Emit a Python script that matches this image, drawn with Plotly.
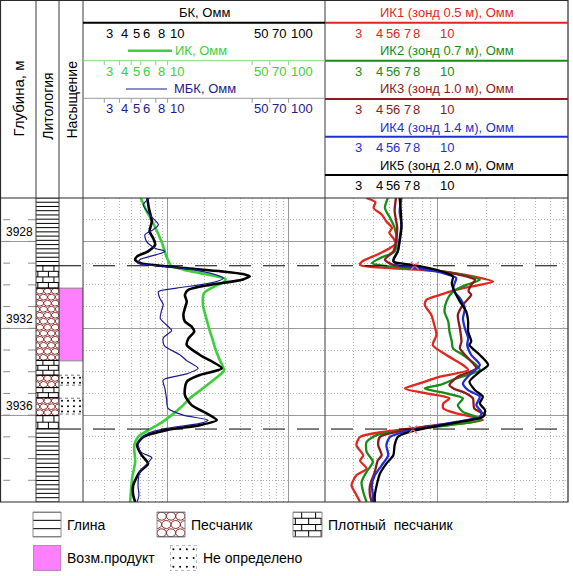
import math
import plotly.graph_objects as go

W, H = 573, 576
FONT = "Liberation Sans, Arial, sans-serif"


def px(x):
    return x / W


def py(y):
    return 1 - y / H


# ---------------- data ----------------
depth_range = [3940, 3926]
depth_major = [3928, 3932, 3936]
depth_minor = [3927, 3929, 3930, 3931, 3933, 3934, 3935, 3937, 3938, 3939]
depth_ticks = list(range(3927, 3940))

litho_top = [3926.0, 3929.12, 3930.15, 3933.48, 3934.16, 3934.73, 3935.2, 3936.02, 3936.63]
litho_bottom = litho_top[1:] + [3940.0]
litho_kind = ["clay", "dense", "sand", "dense", "sand", "dense", "sand", "dense", "clay"]

sat_top = [3930.15, 3934.16, 3935.22]
sat_bottom = [3933.5, 3934.62, 3935.95]
sat_kind = ["product", "undef", "undef"]

boundary_depth = [3929.12, 3936.64]
cross_depth = [3929.12, 3936.66]
cross_value = [7.2, 7.0]

left_range = [2, 200]
right_range = [2, 64]
left_grid_major = [10, 100]
left_grid_minor = [2, 3, 4, 5, 6, 7, 8, 9, 20, 30, 40, 50, 60, 70, 80, 90]
right_grid_major = [10]
right_grid_minor = [2, 3, 4, 5, 6, 7, 8, 9, 20, 30, 40, 50, 60]
left_tick_labels = [3, 4, 5, 6, 8, 10, 50, 70, 100]
right_tick_labels = [3, 4, 5, 6, 7, 8, 10]
right_label_anchor = ["left", "left", "center", "right", "right", "right", "left"]

# left track: (depth, ohmm)
bk = [(3926.0, 6.8), (3926.46, 7.0), (3927.08, 7.4), (3927.54, 7.1), (3927.85, 7.6),
      (3928.15, 7.9), (3928.46, 6.9), (3928.69, 5.6), (3928.85, 5.4), (3929.0, 6.0),
      (3929.12, 8.7), (3929.23, 14.0), (3929.38, 28.0), (3929.5, 42.0), (3929.61, 47.8),
      (3929.75, 42.0), (3929.84, 34.7), (3930.0, 22.4), (3930.23, 14.8), (3930.46, 13.9),
      (3930.77, 14.4), (3931.08, 13.9), (3931.38, 13.5), (3931.69, 13.9), (3931.92, 15.8),
      (3932.15, 16.6), (3932.46, 14.9), (3932.77, 14.4), (3933.23, 18.5), (3933.84, 28.0),
      (3934.15, 18.5), (3934.46, 14.4), (3935.07, 13.9), (3935.54, 15.8), (3935.92, 21.0),
      (3936.23, 25.5), (3936.46, 18.5), (3936.69, 9.8), (3937.0, 6.3), (3937.38, 5.6),
      (3937.84, 6.1), (3938.23, 6.9), (3938.61, 5.9), (3939.23, 5.2), (3939.69, 5.2),
      (3940.0, 5.4)]
ik = [(3926.0, 6.0), (3926.6, 6.7), (3927.15, 7.6), (3928.07, 9.0), (3928.7, 9.8),
      (3929.12, 10.7), (3929.3, 13.5), (3929.46, 18.5), (3929.6, 25.0), (3929.72, 30.0),
      (3929.85, 29.5), (3930.07, 24.5), (3930.38, 20.0), (3930.92, 19.6), (3931.5, 20.8),
      (3932.0, 22.0), (3932.5, 23.5), (3932.92, 24.7), (3933.38, 26.6), (3933.95, 29.2),
      (3934.3, 25.0), (3934.84, 18.8), (3935.22, 15.3), (3935.6, 13.1), (3936.0, 10.8),
      (3936.38, 8.7), (3936.68, 7.0), (3937.0, 5.7), (3937.4, 5.3), (3938.14, 5.4),
      (3938.9, 5.1), (3940.0, 4.9)]
mbk = [(3926.0, 7.1), (3926.31, 6.3), (3926.77, 7.1), (3927.23, 8.4), (3927.46, 7.6),
       (3927.69, 6.5), (3928.0, 6.7), (3928.3, 7.8), (3928.46, 9.5), (3928.61, 8.1),
       (3928.84, 5.9), (3929.0, 5.7), (3929.12, 8.1), (3929.26, 14.4), (3929.46, 22.4),
       (3929.69, 28.9), (3929.92, 22.4), (3930.15, 11.9), (3930.31, 8.4), (3930.6, 8.6),
       (3930.9, 9.2), (3931.2, 8.9), (3931.54, 8.7), (3931.85, 9.8), (3932.1, 10.8),
       (3932.45, 9.2), (3932.8, 9.4), (3933.23, 12.7), (3933.5, 14.5), (3933.84, 17.9),
       (3934.1, 14.4), (3934.38, 9.2), (3934.77, 9.5), (3935.23, 9.8), (3935.69, 10.1),
       (3936.0, 13.5), (3936.23, 21.6), (3936.38, 18.5), (3936.61, 9.8), (3936.84, 6.9),
       (3937.23, 5.7), (3937.69, 6.0), (3937.95, 7.4), (3938.15, 7.0), (3938.61, 5.9),
       (3939.23, 5.7), (3939.69, 5.8), (3940.0, 5.6)]

# right track: induction probes
ik1 = [(3926.0, 3.6), (3926.2, 4.1), (3926.46, 4.0), (3926.77, 4.5), (3927.08, 4.8),
       (3927.38, 5.2), (3927.6, 5.0), (3927.85, 5.3), (3928.1, 5.5), (3928.3, 5.06),
       (3928.61, 4.2), (3928.92, 3.4), (3929.08, 3.3), (3929.23, 5.06), (3929.38, 10.3),
       (3929.61, 16.5), (3929.85, 22.0), (3930.0, 18.2), (3930.23, 13.0), (3930.46, 10.3),
       (3930.69, 8.5), (3930.92, 8.3), (3931.38, 9.1), (3931.84, 9.5), (3932.31, 9.8),
       (3932.77, 9.3), (3933.23, 11.3), (3933.69, 14.3), (3933.92, 15.4), (3934.23, 10.3),
       (3934.54, 7.7), (3934.77, 6.25), (3935.0, 8.5), (3935.23, 11.8), (3935.46, 10.8),
       (3935.69, 10.8), (3935.92, 13.0), (3936.08, 16.5), (3936.23, 19.0), (3936.46, 11.3),
       (3936.61, 7.0), (3936.77, 4.6), (3937.0, 3.3), (3937.38, 3.13), (3937.85, 3.45),
       (3938.1, 3.3), (3938.46, 3.62), (3938.77, 3.13), (3939.23, 2.92), (3939.62, 3.1),
       (3940.0, 3.3)]
ik2 = [(3926.0, 4.9), (3926.46, 4.7), (3926.92, 5.06), (3927.38, 5.4), (3928.0, 5.56),
       (3928.46, 5.4), (3928.77, 4.38), (3929.0, 3.9), (3929.15, 5.06), (3929.31, 9.3),
       (3929.54, 14.3), (3929.77, 18.2), (3930.0, 15.0), (3930.31, 12.4), (3930.77, 11.3),
       (3931.23, 11.0), (3931.69, 11.6), (3932.15, 11.8), (3932.61, 12.2), (3932.92, 12.4),
       (3933.23, 14.3), (3933.69, 17.3), (3933.92, 18.2), (3934.31, 13.0), (3934.61, 10.3),
       (3934.77, 8.3), (3935.0, 11.3), (3935.23, 14.3), (3935.54, 13.3), (3935.85, 14.3),
       (3936.08, 17.3), (3936.23, 18.2), (3936.46, 11.8), (3936.69, 6.4), (3936.92, 4.18),
       (3937.23, 3.62), (3937.69, 3.62), (3938.15, 3.96), (3938.61, 3.62), (3939.08, 3.37),
       (3939.54, 3.45), (3940.0, 3.62)]
ik3 = [(3926.0, 5.5), (3926.6, 5.4), (3927.38, 5.6), (3928.0, 5.5), (3928.46, 5.3),
       (3928.84, 4.7), (3929.08, 5.3), (3929.26, 8.5), (3929.54, 13.7), (3929.77, 17.0),
       (3930.0, 16.1), (3930.3, 15.5), (3930.46, 16.1), (3930.92, 14.3), (3931.38, 13.3),
       (3932.0, 13.7), (3932.61, 14.0), (3932.92, 13.7), (3933.38, 15.4), (3933.84, 17.3),
       (3934.23, 13.3), (3934.61, 11.8), (3934.77, 12.5), (3935.0, 15.0), (3935.23, 16.5),
       (3935.69, 16.8), (3936.0, 19.6), (3936.31, 13.7), (3936.54, 8.1), (3936.74, 5.8),
       (3937.0, 4.38), (3937.38, 4.27), (3937.85, 4.49), (3938.08, 4.25), (3938.61, 4.07),
       (3939.23, 3.8), (3939.69, 3.8), (3940.0, 3.9)]
ik4 = [(3926.0, 5.95), (3926.62, 5.8), (3927.23, 5.95), (3927.85, 5.8), (3928.46, 5.65),
       (3928.84, 5.3), (3929.08, 5.6), (3929.23, 7.4), (3929.46, 10.8), (3929.69, 13.0),
       (3929.92, 12.7), (3930.23, 12.4), (3930.61, 13.7), (3931.08, 14.7), (3931.54, 14.3),
       (3932.0, 14.7), (3932.46, 15.4), (3932.77, 15.2), (3933.23, 16.1), (3933.69, 18.2),
       (3934.15, 15.7), (3934.54, 14.3), (3934.85, 15.4), (3935.15, 18.2), (3935.54, 17.3),
       (3935.85, 18.6), (3936.08, 18.2), (3936.31, 13.0), (3936.54, 8.9), (3936.74, 6.4),
       (3937.0, 5.06), (3937.38, 4.8), (3937.85, 4.93), (3938.31, 4.49), (3938.77, 4.07),
       (3939.23, 3.9), (3939.69, 3.96), (3940.0, 3.96)]
ik5 = [(3926.0, 5.8), (3926.62, 5.9), (3927.38, 5.95), (3928.0, 5.8), (3928.46, 5.65),
       (3928.92, 5.3), (3929.08, 7.0), (3929.31, 9.8), (3929.61, 12.4), (3929.92, 12.2),
       (3930.31, 12.7), (3930.77, 13.7), (3931.23, 15.0), (3931.69, 15.4), (3932.15, 15.4),
       (3932.61, 16.1), (3932.77, 15.7), (3933.23, 18.2), (3933.69, 20.5), (3934.0, 18.2),
       (3934.46, 15.7), (3934.85, 17.0), (3935.15, 19.0), (3935.46, 18.2), (3935.77, 19.6),
       (3936.08, 19.0), (3936.31, 13.7), (3936.54, 9.3), (3936.74, 6.9), (3937.0, 5.65),
       (3937.38, 5.4), (3937.85, 5.3), (3938.23, 4.8), (3938.69, 4.38), (3939.23, 4.18),
       (3939.69, 4.07), (3940.0, 4.07)]

left_titles = ["БК, Омм", "ИК, Омм", "МБК, Омм"]
right_titles = ["ИК1 (зонд 0.5 м), Омм", "ИК2 (зонд 0.7 м), Омм", "ИК3 (зонд 1.0 м), Омм",
                "ИК4 (зонд 1.4 м), Омм", "ИК5 (зонд 2.0 м), Омм"]
legend_kinds = ["clay", "sand", "dense", "product", "undef"]
legend_texts = ["Глина", "Песчаник", "Плотный\u00a0\u00a0песчаник", "Возм.продукт", "Не определено"]

# ---------------- styles ----------------
C_GREEN_L = "#3ccf3c"
C_NAVY = "#1c1c8f"
C_RED = "#e2261e"
C_GREEN_R = "#178c17"
C_MAROON = "#8e1b1b"
C_BLUE = "#1f2fd4"
C_SAND = "#8b2a2a"
C_PINK = "#ff80ff"
C_GRID = "#9a9a9a"
C_DOT = "#b4b4b4"

fig = go.Figure()


def curve(pairs, xa, ya, color, width):
    return go.Scatter(x=[p[1] for p in pairs], y=[p[0] for p in pairs], xaxis=xa, yaxis=ya,
                      mode="lines", line=dict(color=color, width=width, shape="spline", smoothing=0.7),
                      hoverinfo="skip", showlegend=False)


def seg_trace(xs, ys, xa, ya, color, width=1, dash="solid"):
    return go.Scatter(x=xs, y=ys, xaxis=xa, yaxis=ya, mode="lines",
                      line=dict(color=color, width=width, dash=dash),
                      hoverinfo="skip", showlegend=False)


def pattern(kind, top, bottom, xa, ya, row_h):
    n = max(1, round(abs(bottom - top) / row_h))
    h = (bottom - top) / n
    xs, ys = [], []
    out = []
    if kind in ("clay", "dense"):
        for i in range(n + 1):
            y = top + i * h
            xs += [0, 1, None]
            ys += [y, y, None]
        if kind == "dense":
            for i in range(n):
                for xj in ([0.3, 0.78] if i % 2 == 0 else [0.08, 0.54, 0.97]):
                    xs += [xj, xj, None]
                    ys += [top + i * h, top + (i + 1) * h, None]
        out.append(seg_trace(xs, ys, xa, ya, "black", 1))
    elif kind == "sand":
        ncol = 3
        for i in range(n):
            cy = top + (i + 0.5) * h
            shift = 0.5 if i % 2 == 0 else 0.0
            for k in range(ncol + 1):
                cx = (k + shift) / ncol
                for j in range(25):
                    t = 2 * math.pi * j / 24
                    xs.append(cx + 0.5 / ncol * math.cos(t))
                    ys.append(cy + 0.48 * h * math.sin(t))
                xs.append(None)
                ys.append(None)
        out.append(seg_trace(xs, ys, xa, ya, C_SAND, 1))
        out.append(seg_trace([0, 1, None, 0, 1], [top, top, None, bottom, bottom], xa, ya, "black", 1))
    elif kind == "product":
        out.append(go.Scatter(x=[0, 1, 1, 0, 0], y=[top, top, bottom, bottom, top], xaxis=xa, yaxis=ya,
                              mode="lines", fill="toself", fillcolor=C_PINK,
                              line=dict(color="#888888", width=1), hoverinfo="skip", showlegend=False))
    elif kind == "undef":
        cols = 4
        for i in range(n):
            y = top + (i + 0.5) * h
            for k in range(cols):
                xs.append((k + 0.5) / cols)
                ys.append(y)
        out.append(seg_trace([0, 1, 1, 0, 0], [top, top, bottom, bottom, top], xa, ya, "#777777", 1, "dot"))
        out.append(go.Scatter(x=xs, y=ys, xaxis=xa, yaxis=ya, mode="markers",
                              marker=dict(size=2, color="black"), hoverinfo="skip", showlegend=False))
    return out


# depth column ticks
xs, ys = [], []
for d in depth_ticks:
    xs += [0.09, 0.28, None, 0.78, 1.0, None]
    ys += [d, d, None, d, d, None]
fig.add_trace(seg_trace(xs, ys, "x", "y", "#8a8a8a", 1))

# lithology column
row_height = {"clay": 0.2, "dense": 0.27, "sand": 0.27}
for t, b, k in zip(litho_top, litho_bottom, litho_kind):
    for tr in pattern(k, t, b, "x2", "y2", row_height[k]):
        fig.add_trace(tr)

# saturation column
for t, b, k in zip(sat_top, sat_bottom, sat_kind):
    for tr in pattern(k, t, b, "x3", "y3", 0.24):
        fig.add_trace(tr)

# curves
fig.add_trace(curve(ik, "x4", "y4", C_GREEN_L, 2.6))
fig.add_trace(curve(bk, "x4", "y4", "black", 2.6))
fig.add_trace(curve(mbk, "x4", "y4", C_NAVY, 1.2))
for pairs, col in [(ik1, C_RED), (ik2, C_GREEN_R), (ik3, C_MAROON), (ik4, C_BLUE), (ik5, "black")]:
    fig.add_trace(curve(pairs, "x5", "y5", col, 2.3))
fig.add_trace(go.Scatter(x=cross_value, y=cross_depth, xaxis="x5", yaxis="y5", mode="markers",
                         marker=dict(symbol="x-thin-open", size=8, line=dict(color="black", width=1.2)),
                         hoverinfo="skip", showlegend=False))

# legend swatches
legend_box = [(33, 61, 512, 537), (157, 185, 512, 537), (293, 322, 512, 537),
              (33, 61, 545, 571), (170, 197, 545, 571)]
legend_rows = {"clay": 0.34, "sand": 0.34, "dense": 0.25, "product": 1, "undef": 0.34}
for i, k in enumerate(legend_kinds):
    n = 6 + i
    for tr in pattern(k, 0, 1, f"x{n}", f"y{n}", legend_rows[k]):
        fig.add_trace(tr)

# ---------------- axes ----------------
track_px = [(0, 36), (36, 59), (59, 83), (83, 325), (325, 568)]
ydom = [py(502), py(198)]
layout_axes = {}
hidden = dict(showgrid=False, zeroline=False, showticklabels=False, ticks="", showline=False, fixedrange=True)
for i, (a, b) in enumerate(track_px, 1):
    s = "" if i == 1 else str(i)
    layout_axes["xaxis" + s] = dict(domain=[px(a), px(b)], anchor="y" + s, range=[0, 1], **hidden)
    layout_axes["yaxis" + s] = dict(domain=ydom, anchor="x" + s, range=depth_range, **hidden)

layout_axes["yaxis"].update(tickvals=depth_major, showgrid=True, gridcolor=C_GRID, gridwidth=1)
for s, rng, gmaj, gmin in [("4", left_range, left_grid_major, left_grid_minor),
                           ("5", right_range, right_grid_major, right_grid_minor)]:
    layout_axes["xaxis" + s].update(
        type="log", range=[math.log10(rng[0]), math.log10(rng[1])], tickvals=gmaj,
        showgrid=True, gridcolor=C_GRID, gridwidth=1,
        minor=dict(tickvals=gmin, showgrid=True, gridcolor=C_DOT, griddash="1px,2px", gridwidth=1, ticks=""))
    layout_axes["yaxis" + s].update(
        tickvals=depth_major, showgrid=True, gridcolor=C_GRID, gridwidth=1,
        minor=dict(tickvals=depth_minor, showgrid=True, gridcolor=C_DOT, griddash="1px,2px", gridwidth=1, ticks=""))

for i, (x0, x1, y0, y1) in enumerate(legend_box):
    n = str(6 + i)
    layout_axes["xaxis" + n] = dict(domain=[px(x0), px(x1)], anchor="y" + n, range=[0, 1], **hidden)
    layout_axes["yaxis" + n] = dict(domain=[py(y1), py(y0)], anchor="x" + n, range=[1, 0], **hidden)

# ---------------- shapes ----------------
shapes = []


def hline(y, x0, x1, color, width=1, dash="solid", yref="paper", xref="paper"):
    shapes.append(dict(type="line", xref=xref, yref=yref, x0=x0, x1=x1, y0=y, y1=y,
                       line=dict(color=color, width=width, dash=dash)))


for x in [36, 59, 83, 325]:
    shapes.append(dict(type="line", xref="paper", yref="paper", x0=px(x), x1=px(x), y0=py(0), y1=py(502),
                       line=dict(color="#3a3a3a", width=1)))
shapes.append(dict(type="rect", xref="paper", yref="paper", x0=px(0.5), x1=px(568), y0=py(0.5), y1=py(502),
                   line=dict(color="#2a2a2a", width=1.2)))
hline(py(198), px(0), px(568), "#2a2a2a", 1.2)

# header separator lines
left_rows = [(22.7, "black", 2), (60.7, "#84d884", 1), (98.3, "#9a9a9a", 1)]
right_rows = [(22.7, C_RED, 2), (60.7, C_GREEN_R, 2), (99, C_MAROON, 2), (136.7, C_BLUE, 2), (175, "black", 2)]
for y, c, w in left_rows:
    hline(py(y), px(83), px(325), c, w)
for y, c, w in right_rows:
    hline(py(y), px(325), px(568), c, w)
for y, c, w in left_rows[1:]:
    for v in left_tick_labels:
        shapes.append(dict(type="line", xref="x4", yref="paper", x0=v, x1=v, y0=py(y), y1=py(y + 4.5),
                           line=dict(color=c, width=1)))
# header legend samples
hline(py(50.7), px(128), px(172), C_GREEN_L, 2.6)
hline(py(89), px(126), px(167), C_NAVY, 1.2)

# reservoir boundaries
for d in boundary_depth:
    hline(d, px(59), px(568), "black", 1, "22px,12px", yref="y4")

# legend swatch frames
for (x0, x1, y0, y1), k in zip(legend_box, legend_kinds):
    if k in ("undef", "product"):
        continue
    shapes.append(dict(type="rect", xref="paper", yref="paper", x0=px(x0), x1=px(x1), y0=py(y1), y1=py(y0),
                       line=dict(color="#8a8a8a", width=1)))

# ---------------- annotations ----------------
ann = []


def text(x, y, s, color="black", size=13, xanchor="center", xref="paper", yref="paper", yanchor="middle", angle=0):
    ann.append(dict(x=x, y=y, xref=xref, yref=yref, text=s, showarrow=False, xanchor=xanchor,
                    yanchor=yanchor, textangle=angle, font=dict(family=FONT, size=size, color=color)))


text(px(17.5), py(99), "Глубина, м", size=15, angle=-90)
text(px(47.7), py(106), "Литология", size=14, angle=-90)
text(px(71.5), py(100), "Насыщение", size=14, angle=-90)

for d in depth_major:
    text(0.53, d, str(d), size=12, xref="x", yref="y", yanchor="bottom")

text(px(204), py(12.5), left_titles[0])
text(px(173), py(50.7), left_titles[1], color=C_GREEN_L, xanchor="left")
text(px(172), py(89), left_titles[2], color=C_NAVY, xanchor="left")
for y, c in zip([33.3, 71.7, 108.3], ["black", C_GREEN_L, C_NAVY]):
    for v in left_tick_labels:
        text(math.log10(v), py(y), str(v), color=c, xanchor="left", xref="x4")

for y, s, c in zip([12.5, 50.7, 89, 127.5, 165.5], right_titles, [C_RED, C_GREEN_R, C_MAROON, C_BLUE, "black"]):
    text(px(446.5), py(y), s, color=c)
for y, c in zip([33.3, 71.7, 109.3, 147.3, 185], [C_RED, C_GREEN_R, C_MAROON, C_BLUE, "black"]):
    for v, a in zip(right_tick_labels, right_label_anchor):
        text(math.log10(v), py(y), str(v), color=c, xanchor=a, xref="x5")

for (x0, x1, y0, y1), s in zip(legend_box, legend_texts):
    text(px(x1 + 4), py((y0 + y1) / 2), s, size=14, xanchor="left")

fig.update_layout(
    width=W, height=H, margin=dict(l=0, r=0, t=0, b=0),
    paper_bgcolor="white", plot_bgcolor="rgba(0,0,0,0)", showlegend=False,
    font=dict(family=FONT), shapes=shapes, annotations=ann, **layout_axes)

# the page body has a default 8px margin; drop it so the figure fills the window
fig.write_html("out.html", config={"displayModeBar": False},
               post_script="document.body.style.margin='0';")
